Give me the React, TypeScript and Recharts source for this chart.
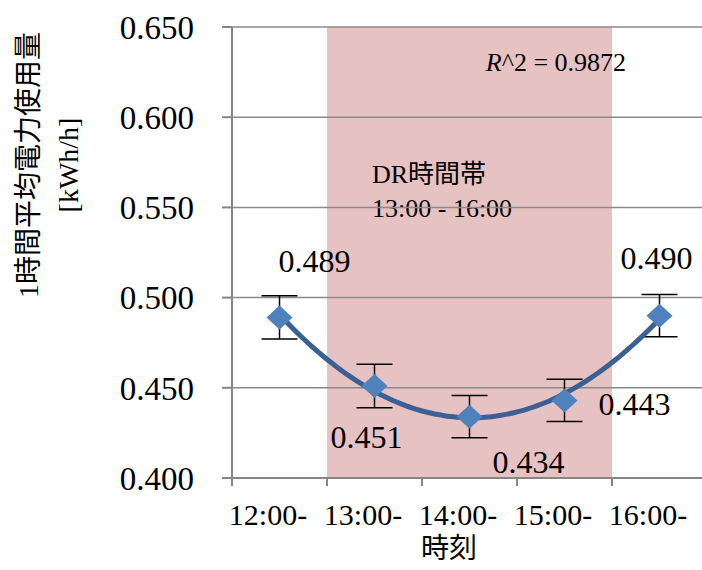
import {
  ComposedChart,
  XAxis,
  YAxis,
  Scatter,
  Line,
  ErrorBar,
  ReferenceArea,
  ReferenceLine,
} from "recharts";

const categories = ["12:00-", "13:00-", "14:00-", "15:00-", "16:00-"];
const values = [0.489, 0.451, 0.434, 0.443, 0.49];
const errors = [0.012, 0.012, 0.0117, 0.0117, 0.0117];
const yTicks = [0.4, 0.45, 0.5, 0.55, 0.6, 0.65];
const xTicks = [0, 1, 2, 3, 4, 5];
const drRange = [1, 4];

const FONT = "'Liberation Serif', Tinos, 'Times New Roman', Times, serif, 'Noto Sans CJK JP'";

// label offsets from the marker centre, one per point
const labelOffsets = [
  [35, -56],
  [-8, 51],
  [59, 45],
  [70, 4],
  [-3, -58],
];

const points = values.map((v, i) => ({ x: i + 0.5, y: v, err: errors[i] }));

// quadratic least-squares trendline, as the spreadsheet draws it
function quadFit(xs: number[], ys: number[]) {
  const n = xs.length;
  let s1 = 0, s2 = 0, s3 = 0, s4 = 0, t0 = 0, t1 = 0, t2 = 0;
  for (let i = 0; i < n; i++) {
    const x = xs[i], y = ys[i];
    s1 += x; s2 += x * x; s3 += x * x * x; s4 += x * x * x * x;
    t0 += y; t1 += x * y; t2 += x * x * y;
  }
  const m = [
    [n, s1, s2, t0],
    [s1, s2, s3, t1],
    [s2, s3, s4, t2],
  ];
  for (let c = 0; c < 3; c++) {
    for (let r = c + 1; r < 3; r++) {
      const f = m[r][c] / m[c][c];
      for (let k = c; k < 4; k++) m[r][k] -= f * m[c][k];
    }
  }
  const co = [0, 0, 0];
  for (let r = 2; r >= 0; r--) {
    let s = m[r][3];
    for (let k = r + 1; k < 3; k++) s -= m[r][k] * co[k];
    co[r] = s / m[r][r];
  }
  return co;
}

const [ca, cb, cc] = quadFit(points.map((p) => p.x), values);
const trend = Array.from({ length: 61 }, (_, i) => {
  const x = 0.5 + (i * 4) / 60;
  return { x, y: ca + cb * x + cc * x * x };
});

const Diamond = (props: any) => {
  const { cx, cy, index, payload } = props;
  const [dx, dy] = labelOffsets[index] || [0, -40];
  return (
    <g>
      <polygon
        points={`${cx},${cy - 12} ${cx + 13},${cy} ${cx},${cy + 12} ${cx - 13},${cy}`}
        fill="#4F81BD"
      />
      <text
        x={cx + dx}
        y={cy + dy}
        textAnchor="middle"
        dominantBaseline="central"
        fontSize={32}
        fontFamily={FONT}
        fill="#000"
      >
        {payload.y.toFixed(3)}
      </text>
    </g>
  );
};

const XTick = (props: any) => {
  const { x, y, payload } = props;
  const label = categories[payload.value];
  if (!label) return null;
  return (
    <text x={x + 36} y={y + 37} textAnchor="middle" fontSize={30} fontFamily={FONT} fill="#000">
      {label}
    </text>
  );
};

const AreaNotes = () => (
  <g fontFamily={FONT} fill="#000">
    <text x={556} y={62} textAnchor="middle" dominantBaseline="central" fontSize={26}>
      <tspan fontStyle="italic">R</tspan>^2 = 0.9872
    </text>
    <text x={372} y={174} dominantBaseline="central" fontSize={26}>
      DR時間帯
    </text>
    <text x={372} y={208} dominantBaseline="central" fontSize={26}>
      13:00 - 16:00
    </text>
  </g>
);

export default function App() {
  return (
    <div
      style={{
        position: "absolute",
        left: 0,
        top: 0,
        width: 702,
        height: 570,
        overflow: "hidden",
        background: "#fff",
      }}
    >
      <ComposedChart
        width={720}
        height={570}
        margin={{ top: 27, right: 13, bottom: 42, left: 0 }}
      >
        <XAxis
          type="number"
          dataKey="x"
          domain={[0, 5]}
          ticks={xTicks}
          interval={0}
          allowDataOverflow
          stroke="#868686"
          strokeWidth={2}
          tickSize={8}
          tick={<XTick />}
          height={50}
          label={{
            content: () => (
              <text x={449} y={558} textAnchor="middle" fontSize={28} fontFamily={FONT} fill="#000">
                時刻
              </text>
            ),
          }}
        />
        <YAxis
          type="number"
          domain={[0.4, 0.65]}
          ticks={yTicks}
          interval={0}
          allowDataOverflow
          width={232}
          stroke="#868686"
          strokeWidth={2}
          tickSize={10}
          tickMargin={28}
          tickFormatter={(v: number) => v.toFixed(3)}
          tick={{ fontSize: 33, fontFamily: FONT, fill: "#000" }}
          label={{
            content: () => (
              <g fontFamily={FONT} fontSize={28} fill="#000">
                <text x={28} y={165} textAnchor="middle" dominantBaseline="central" transform="rotate(-90 28 165)">
                  1時間平均電力使用量
                </text>
                <text x={68} y={165} textAnchor="middle" dominantBaseline="central" transform="rotate(-90 68 165)">
                  [kWh/h]
                </text>
              </g>
            ),
          }}
        />
        <ReferenceArea
          x1={drRange[0]}
          x2={drRange[1]}
          y1={0.4}
          y2={0.65}
          fill="#E7C2C3"
          fillOpacity={1}
          stroke="none"
          label={{ content: () => <AreaNotes /> }}
        />
        {yTicks.slice(1).map((t) => (
          <ReferenceLine key={t} y={t} stroke="#8A8A8A" strokeWidth={1.5} />
        ))}
        <Scatter
          data={points}
          dataKey="y"
          shape={<Diamond />}
          isAnimationActive={false}
        >
          <ErrorBar dataKey="err" direction="y" width={18} stroke="#000" strokeWidth={1.5} />
        </Scatter>
        <Line
          data={trend}
          dataKey="y"
          type="monotone"
          dot={false}
          stroke="#3A6096"
          strokeWidth={5}
          isAnimationActive={false}
        />
      </ComposedChart>
    </div>
  );
}
